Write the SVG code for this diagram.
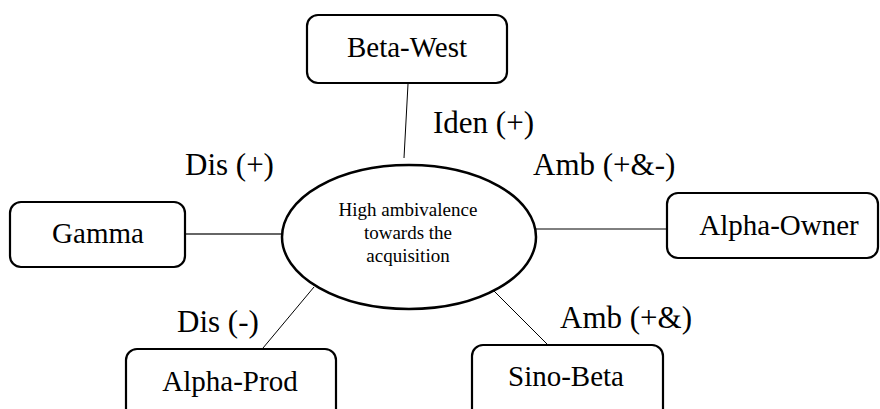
<svg xmlns="http://www.w3.org/2000/svg" width="880" height="409" viewBox="0 0 880 409">
<style>
text{font-family:'Liberation Serif','Times New Roman',Tinos,'DejaVu Serif',serif}
.box{fill:#fff;stroke:#000;stroke-width:2.2}
.node{font-size:29px;fill:#000;text-anchor:middle}
.lbl{font-size:31px;fill:#000}
.ctr{font-size:19px;fill:#000;text-anchor:middle}
.edge{stroke:#000;stroke-width:1;fill:none}
</style>
<rect width="880" height="409" fill="#fff"/>
<g id="connectors">
<line class="edge" x1="408" y1="84" x2="404" y2="158"/>
<line class="edge" x1="185" y1="234" x2="282" y2="234" style="stroke:#333;stroke-width:1.5"/>
<line class="edge" x1="533" y1="229" x2="667" y2="229"/>
<line class="edge" x1="314" y1="287" x2="263" y2="348"/>
<line class="edge" x1="491" y1="288" x2="548" y2="345"/>
</g>
<g id="center" font-family="Liberation Serif, serif">
<ellipse cx="409" cy="237" rx="127" ry="72" fill="#fff" stroke="#000" stroke-width="2.5"/>
<text class="ctr" x="408" y="216">High ambivalence</text>
<text class="ctr" x="408" y="239">towards the</text>
<text class="ctr" x="408" y="262">acquisition</text>
</g>
<g id="beta-west">
<rect class="box" x="307" y="15" width="200" height="68" rx="11"/>
<text class="node" x="407" y="57">Beta-West</text>
</g>
<g id="gamma">
<rect class="box" x="10" y="202" width="175" height="65" rx="11"/>
<text class="node" x="98" y="243">Gamma</text>
</g>
<g id="alpha-owner">
<rect class="box" x="667" y="193" width="211" height="65" rx="11"/>
<text class="node" x="779" y="235">Alpha-Owner</text>
</g>
<g id="alpha-prod">
<rect class="box" x="126" y="349" width="210" height="80" rx="11"/>
<text class="node" x="230" y="391">Alpha-Prod</text>
</g>
<g id="sino-beta">
<rect class="box" x="472" y="345" width="191" height="80" rx="11"/>
<text class="node" x="566" y="386">Sino-Beta</text>
</g>
<g id="labels">
<text class="lbl" x="433" y="133">Iden (+)</text>
<text class="lbl" x="185" y="175">Dis (+)</text>
<text class="lbl" x="533" y="175">Amb (+&amp;-)</text>
<text class="lbl" x="177" y="332">Dis (-)</text>
<text class="lbl" x="560" y="328">Amb (+&amp;)</text>
</g>
</svg>
